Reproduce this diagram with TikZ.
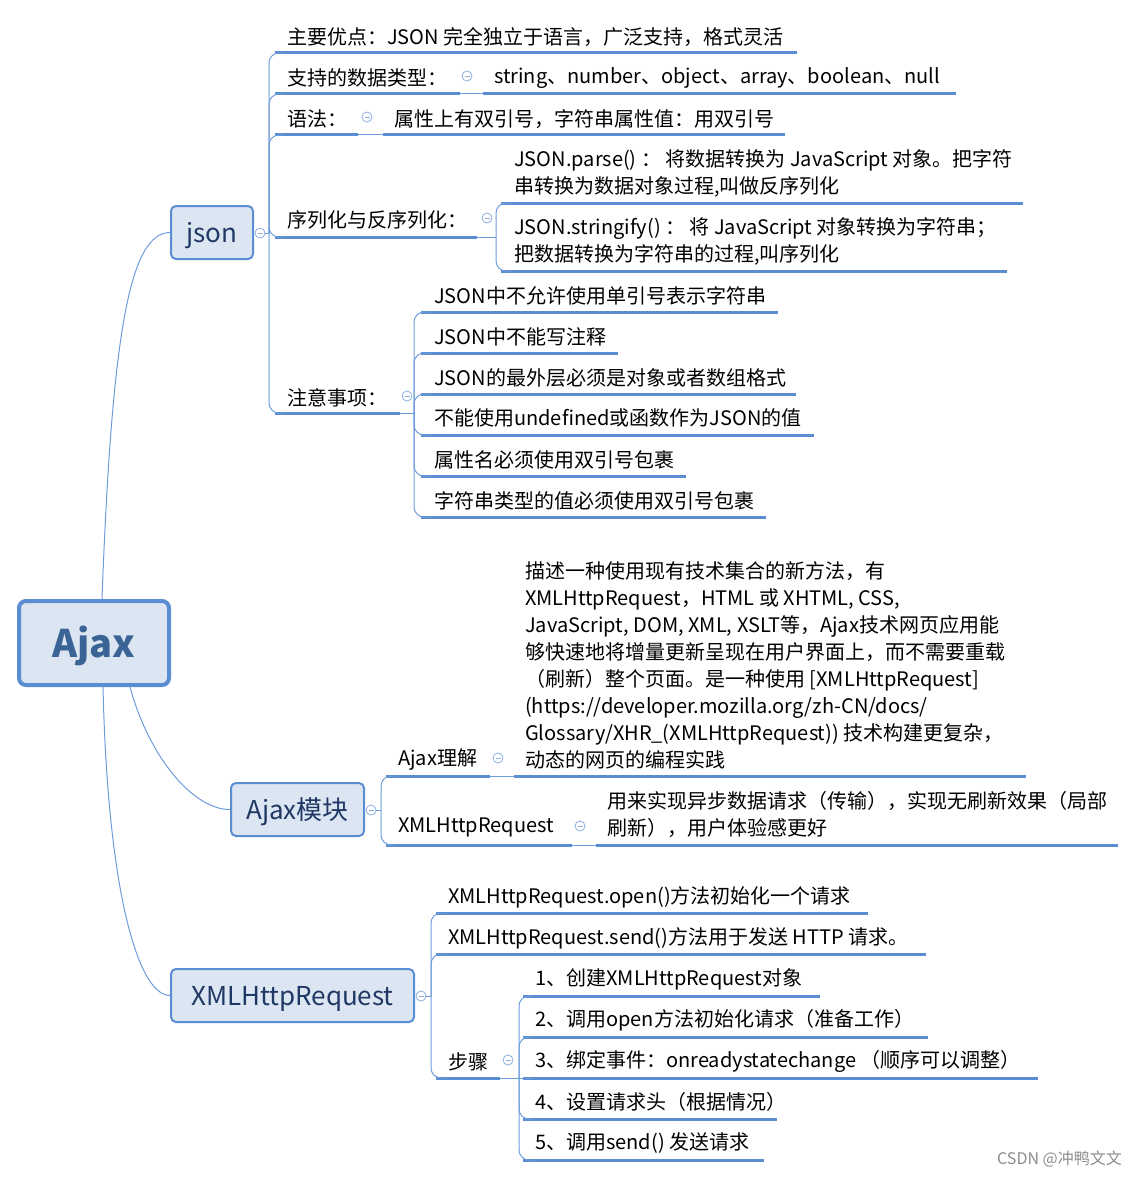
\documentclass[tikz,border=0pt]{standalone}
\usepackage{fontspec}
\setmainfont{Noto Sans CJK SC}
\usetikzlibrary{calc}
\definecolor{ulc}{HTML}{5B8DD3}
\definecolor{cc}{HTML}{6E9CDB}
\definecolor{colc}{HTML}{8CAEE0}
\definecolor{boxfill}{HTML}{DCE6F2}
\definecolor{boxtext}{HTML}{1F3864}
\definecolor{roottext}{HTML}{3A6396}
\newcommand\mmitem[7]{%
  \node[tx] (#1) at (#2,#3) {#7};
  \coordinate (#1s) at (#4,#6);
  \coordinate (#1e) at (#5,#6);
  \draw[uline] (#1s) -- (#1e);}
\newcommand\lowered[2]{\raisebox{-#1}[\height][\depth]{#2}}
\begin{document}
\begin{tikzpicture}[x=1pt,y=-1pt,
  uline/.style={draw=ulc,line width=3pt},
  conn/.style={draw=cc,line width=1pt},
  brk/.style={draw=cc,line width=1pt,rounded corners=10pt},
  tx/.style={inner sep=0pt,anchor=west,align=left,text=black,yshift=-2pt,font=\fontsize{20}{27}\selectfont},
  col/.style={circle,draw=colc,fill=white,minimum size=10pt,inner sep=0pt,line width=0.8pt,
    path picture={\draw[colc,line width=0.8pt] ($(path picture bounding box.center)+(-2.5pt,0)$) -- ($(path picture bounding box.center)+(2.5pt,0)$);}},
  mbox/.style={draw=ulc,line width=2pt,fill=boxfill,rounded corners=5pt,inner sep=0pt,
    text=boxtext,font=\fontsize{26}{30}\selectfont}]
\useasboundingbox (0,0) rectangle (1137,1177);

% root
\node[draw=ulc,line width=4pt,fill=boxfill,rounded corners=7pt,minimum width=150pt,minimum height=84pt,
  text=roottext,font=\fontsize{38}{42}\selectfont\bfseries] (root) at (94,643) {\lowered{3pt}{Ajax}};

% level 1 boxes
\node[mbox,minimum width=82pt,minimum height=53pt] (json) at (212,232.5) {\lowered{3pt}{json}};
\node[mbox,minimum width=133pt,minimum height=53pt] (mod) at (297.5,809.5) {\lowered{2pt}{Ajax模块}};
\node[mbox,minimum width=243pt,minimum height=53pt] (xhr) at (292.5,995.5) {\lowered{3pt}{XMLHttpRequest}};

\draw[conn] ($(root.north)+(8,0)$) .. controls (112,330) and (130,233) .. (json.west);
\draw[conn] ($(root.south)+(36,0)$) .. controls (150,760) and (195,810) .. (mod.west);
\draw[conn] ($(root.south)+(9,0)$) .. controls (108,900) and (140,996) .. (xhr.west);

% ---------- json branch
\node[col] (cj) at (260,233) {};
\coordinate (bj) at (269,233);
\draw[conn] (cj) -- (bj);
\mmitem{a1}{287}{35}{275}{797}{53}{主要优点：JSON 完全独立于语言，广泛支持，格式灵活}
\mmitem{a2}{287}{76}{275}{460}{94}{支持的数据类型：}
\mmitem{a3}{287}{117}{275}{358}{135}{语法：}
\mmitem{a4}{287}{218}{275}{477}{237}{序列化与反序列化：}
\mmitem{a5}{287}{396}{275}{400}{413}{注意事项：}
\foreach \n in {a1,a2,a3,a4,a5} \draw[brk] (bj) |- ($(\n s)+(10,0)$);

\node[col] (ca2) at (467,76) {};
\mmitem{a2c}{494}{76}{483}{956}{94}{string、number、object、array、boolean、null}
\draw[conn] (a2e) -- (a2cs);

\node[col] (ca3) at (367,117) {};
\mmitem{a3c}{394}{117}{383}{785}{135}{属性上有双引号，字符串属性值：用双引号}
\draw[conn] (a3e) -- (a3cs);

\node[col] (ca4) at (487,218) {};
\coordinate (b4) at (496,237);
\draw[conn] (a4e) -- (b4);
\mmitem{a4a}{514}{171.5}{501}{1023}{203}{JSON.parse() ： 将数据转换为 JavaScript 对象。把字符\\串转换为数据对象过程,叫做反序列化}
\mmitem{a4b}{514}{239.5}{501}{1007}{271}{JSON.stringify() ： 将 JavaScript 对象转换为字符串；\\把数据转换为字符串的过程,叫序列化}
\foreach \n in {a4a,a4b} \draw[brk] (b4) |- ($(\n s)+(10,0)$);

\node[col] (ca5) at (407,396) {};
\coordinate (b5) at (414,413);
\draw[conn] (a5e) -- (b5);
\mmitem{n1}{434}{294}{421}{778}{312}{JSON中不允许使用单引号表示字符串}
\mmitem{n2}{434}{335}{421}{618}{353}{JSON中不能写注释}
\mmitem{n3}{434}{376}{421}{796}{394}{JSON的最外层必须是对象或者数组格式}
\mmitem{n4}{434}{416}{421}{814}{435}{不能使用undefined或函数作为JSON的值}
\mmitem{n5}{434}{458}{421}{686}{476}{属性名必须使用双引号包裹}
\mmitem{n6}{434}{499}{421}{766}{517}{字符串类型的值必须使用双引号包裹}
\foreach \n in {n1,n2,n3,n4,n5,n6} \draw[brk] (b5) |- ($(\n s)+(10,0)$);

% ---------- Ajax module branch
\node[col] (cm) at (371,810) {};
\coordinate (bm) at (381,810);
\draw[conn] (cm) -- (bm);
\mmitem{m1}{398}{758}{386}{490}{776}{Ajax理解}
\mmitem{m2}{398}{825}{386}{572}{845}{XMLHttpRequest}
\foreach \n in {m1,m2} \draw[brk] (bm) |- ($(\n s)+(10,0)$);

\node[col] (cm1) at (498,758) {};
\mmitem{m1c}{525}{663.5}{514}{1026}{776}{描述一种使用现有技术集合的新方法，有\\XMLHttpRequest，HTML 或 XHTML, CSS,\\JavaScript, DOM, XML, XSLT等，Ajax技术网页应用能\\够快速地将增量更新呈现在用户界面上，而不需要重载\\（刷新）整个页面。是一种使用 [XMLHttpRequest]\\(https://developer.mozilla.org/zh-CN/docs/\\Glossary/XHR\_(XMLHttpRequest)) 技术构建更复杂，\\动态的网页的编程实践}
\draw[conn] (m1e) -- (m1cs);

\node[col] (cm2) at (580,826) {};
\mmitem{m2c}{607}{812.5}{596}{1118}{845}{用来实现异步数据请求（传输），实现无刷新效果（局部\\刷新），用户体验感更好}
\draw[conn] (m2e) -- (m2cs);

% ---------- XMLHttpRequest branch
\node[col] (cx) at (421,996) {};
\coordinate (bx) at (431,996);
\draw[conn] (cx) -- (bx);
\mmitem{x1}{448}{895}{436}{868}{913}{XMLHttpRequest.open()方法初始化一个请求}
\mmitem{x2}{448}{936}{436}{926}{954}{XMLHttpRequest.send()方法用于发送 HTTP 请求。}
\mmitem{x3}{448}{1060}{436}{500}{1078}{步骤}
\foreach \n in {x1,x2,x3} \draw[brk] (bx) |- ($(\n s)+(10,0)$);

\node[col] (cx3) at (508,1060) {};
\coordinate (b8) at (519,1078);
\draw[conn] (x3e) -- (b8);
\mmitem{s1}{535}{977}{523}{820}{996}{1、创建XMLHttpRequest对象}
\mmitem{s2}{535}{1018}{523}{928}{1037}{2、调用open方法初始化请求（准备工作）}
\mmitem{s3}{535}{1059}{523}{1038}{1078}{3、绑定事件：onreadystatechange （顺序可以调整）}
\mmitem{s4}{535}{1100}{523}{777}{1119}{4、设置请求头（根据情况）}
\mmitem{s5}{535}{1141}{523}{764}{1160}{5、调用send() 发送请求}
\foreach \n in {s1,s2,s4,s5} \draw[brk] (b8) |- ($(\n s)+(10,0)$);
\draw[conn] (b8) -- ($(s3s)+(10,0)$);

% watermark
\node[inner sep=0pt,anchor=east,text=black!45,font=\fontsize{16}{18}\selectfont] (wm) at (1122,1159) {CSDN @冲鸭文文};
\end{tikzpicture}
\end{document}
